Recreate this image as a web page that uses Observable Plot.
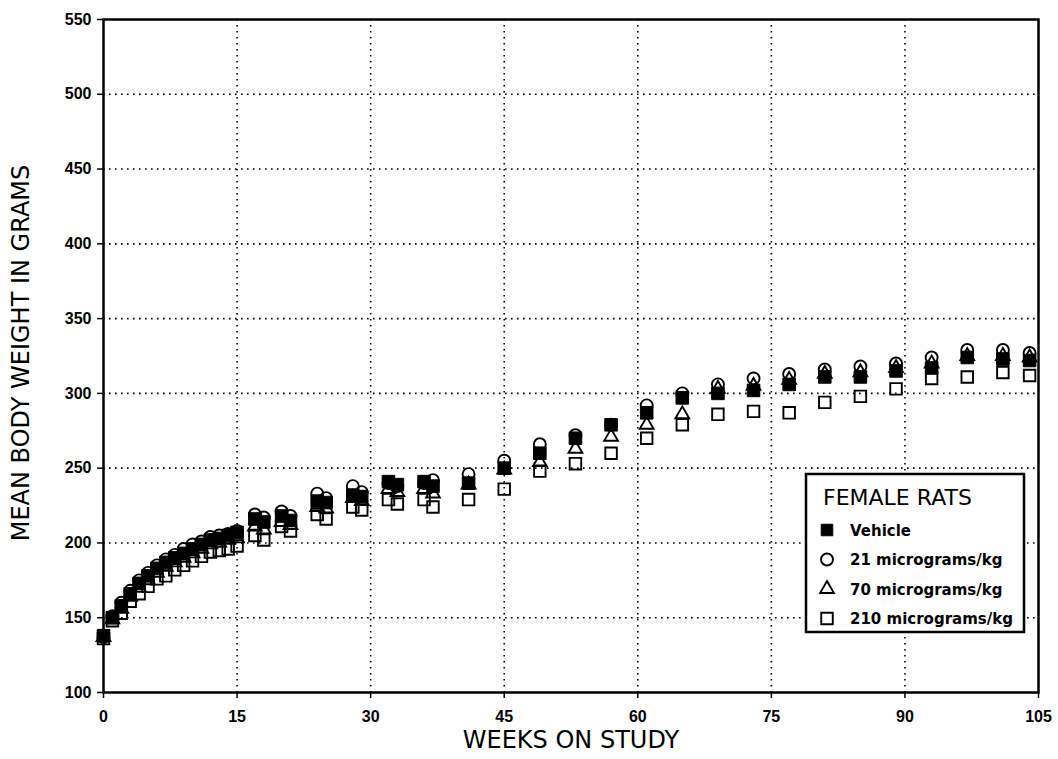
<!DOCTYPE html>
<html><head><meta charset="utf-8">
<script src="https://cdn.jsdelivr.net/npm/d3@7"></script>
<script src="https://cdn.jsdelivr.net/npm/@observablehq/plot@0.6"></script>
<style>body{margin:0;background:#fff}</style>
</head><body><div id="chart"></div>
<script>
// Weeks on study at which body weights were plotted
const weeks = [0,1,2,3,4,5,6,7,8,9,10,11,12,13,14,15,17,18,20,21,24,25,28,29,32,33,36,37,41,45,49,53,57,61,65,69,73,77,81,85,89,93,97,101,104];
// Mean body weight (g) per group
const vehicle = [138,150,158,166,173,178,183,187,190,193,196,199,202,203,205,207,216,214,218,215,228,227,232,231,241,239,241,238,240,250,260,270,279,287,297,300,302,306,311,311,315,317,324,323,322];
const dose21  = [137,151,160,168,175,180,185,189,192,196,199,201,204,205,206,208,219,217,221,218,233,230,238,234,240,238,240,242,246,255,266,272,279,292,300,306,310,313,316,318,320,324,329,329,327];
const dose70  = [137,149,156,164,170,175,180,184,187,190,193,196,199,200,202,203,211,209,214,212,224,223,230,228,236,234,236,233,239,249,254,263,271,279,286,303,305,309,313,314,317,320,325,325,324];
const dose210 = [136,148,153,161,166,171,176,178,182,185,188,191,194,195,196,198,205,202,211,208,219,216,224,222,229,226,229,224,229,236,248,253,260,270,279,286,288,287,294,298,303,310,311,314,312];

const seriesNames = ["Vehicle","21 micrograms/kg","70 micrograms/kg","210 micrograms/kg"];
const seriesSymbols = ["square","circle","triangle","square"];
const seriesFilled = [true,false,false,false];
const xTicks = [0,15,30,45,60,75,90,105];
const yTicks = [100,150,200,250,300,350,400,450,500,550];
const legendTitle = "FEMALE RATS";
const xTitle = "WEEKS ON STUDY";
const yTitle = "MEAN BODY WEIGHT IN GRAMS";

const seriesValues = [vehicle, dose21, dose70, dose210];
const rOf = (s, filled) => s === "square" ? (filled ? 7.1 : 6.5) : s === "circle" ? 6 : 5.1;

const tables = seriesValues.map(vals => weeks.map((w, i) => ({week: w, weight: vals[i]})));
// draw order: 210, 70, 21, vehicle on top
const order = [3, 2, 1, 0];
const dotMarks = order.map(k => Plot.dot(tables[k], {
  x: "week", y: "weight",
  symbol: () => seriesSymbols[k],
  r: rOf(seriesSymbols[k], seriesFilled[k]),
  fill: seriesFilled[k] ? "black" : "none",
  stroke: "black",
  strokeWidth: seriesFilled[k] ? 1 : 1.9
}));

const plot = Plot.plot({
  width: 1058,
  height: 759,
  marginLeft: 103,
  marginRight: 20,
  marginTop: 19,
  marginBottom: 67,
  style: {fontFamily: "Liberation Sans", fontSize: "16px", fontWeight: "bold", color: "black", background: "white"},
  symbol: {type: "identity"},
  x: {domain: [0, 105]},
  y: {domain: [100, 550]},
  marks: [
    Plot.gridX(xTicks.slice(1, -1), {stroke: "black", strokeOpacity: 1, strokeWidth: 1.6, strokeDasharray: "1.6,4.4"}),
    Plot.gridY(yTicks.slice(1, -1), {stroke: "black", strokeOpacity: 1, strokeWidth: 1.6, strokeDasharray: "1.6,4.4"}),
    Plot.axisX(xTicks, {tickSize: 6, tickPadding: 12, strokeWidth: 1.5, label: null, tickFormat: d => String(d)}),
    Plot.axisY(yTicks, {tickSize: 6, tickPadding: 6, strokeWidth: 1.5, label: null, tickFormat: d => String(d)}),
    ...dotMarks,
    Plot.frame({stroke: "black", strokeWidth: 2.5}),
    Plot.text([xTitle], {frameAnchor: "bottom", dy: 48, lineAnchor: "middle", textAnchor: "middle", text: d => d, fontFamily: "DejaVu Sans", fontSize: 24, fontWeight: "normal"}),
    Plot.text([yTitle], {frameAnchor: "left", dx: -82, dy: -3, rotate: -90, lineAnchor: "middle", textAnchor: "middle", text: d => d, fontFamily: "DejaVu Sans", fontSize: 24, fontWeight: "normal"})
  ]
});

// Legend box inside the plot area
const svg = d3.select(plot);
const lg = svg.append("g").attr("text-anchor", "start");
const bx = 806, by = 474, bw = 218, bh = 158;
lg.append("rect").attr("x", bx).attr("y", by).attr("width", bw).attr("height", bh)
  .attr("fill", "white").attr("stroke", "black").attr("stroke-width", 2.5);
lg.append("text").attr("x", bx + 17).attr("y", by + 31).attr("text-anchor", "start").text(legendTitle)
  .style("font-family", "DejaVu Sans").style("font-size", "22px").style("font-weight", "normal").attr("fill", "black");
const symMap = {square: d3.symbolSquare, circle: d3.symbolCircle, triangle: d3.symbolTriangle};
seriesNames.forEach((name, k) => {
  const cy = by + 56 + k * 29.5;
  const s = seriesSymbols[k], r = rOf(s, false);
  lg.append("path")
    .attr("d", d3.symbol(symMap[s], r * r * Math.PI)())
    .attr("transform", `translate(${bx + 21},${cy})`)
    .attr("fill", seriesFilled[k] ? "black" : "none")
    .attr("stroke", "black").attr("stroke-width", seriesFilled[k] ? 1 : 1.9);
  lg.append("text").attr("x", bx + 44).attr("y", cy + 5.5).attr("text-anchor", "start").text(name)
    .style("font-family", "DejaVu Sans").style("font-size", "15px").style("font-weight", "bold").attr("fill", "black");
});

document.getElementById("chart").appendChild(plot);
</script>
</body></html>
